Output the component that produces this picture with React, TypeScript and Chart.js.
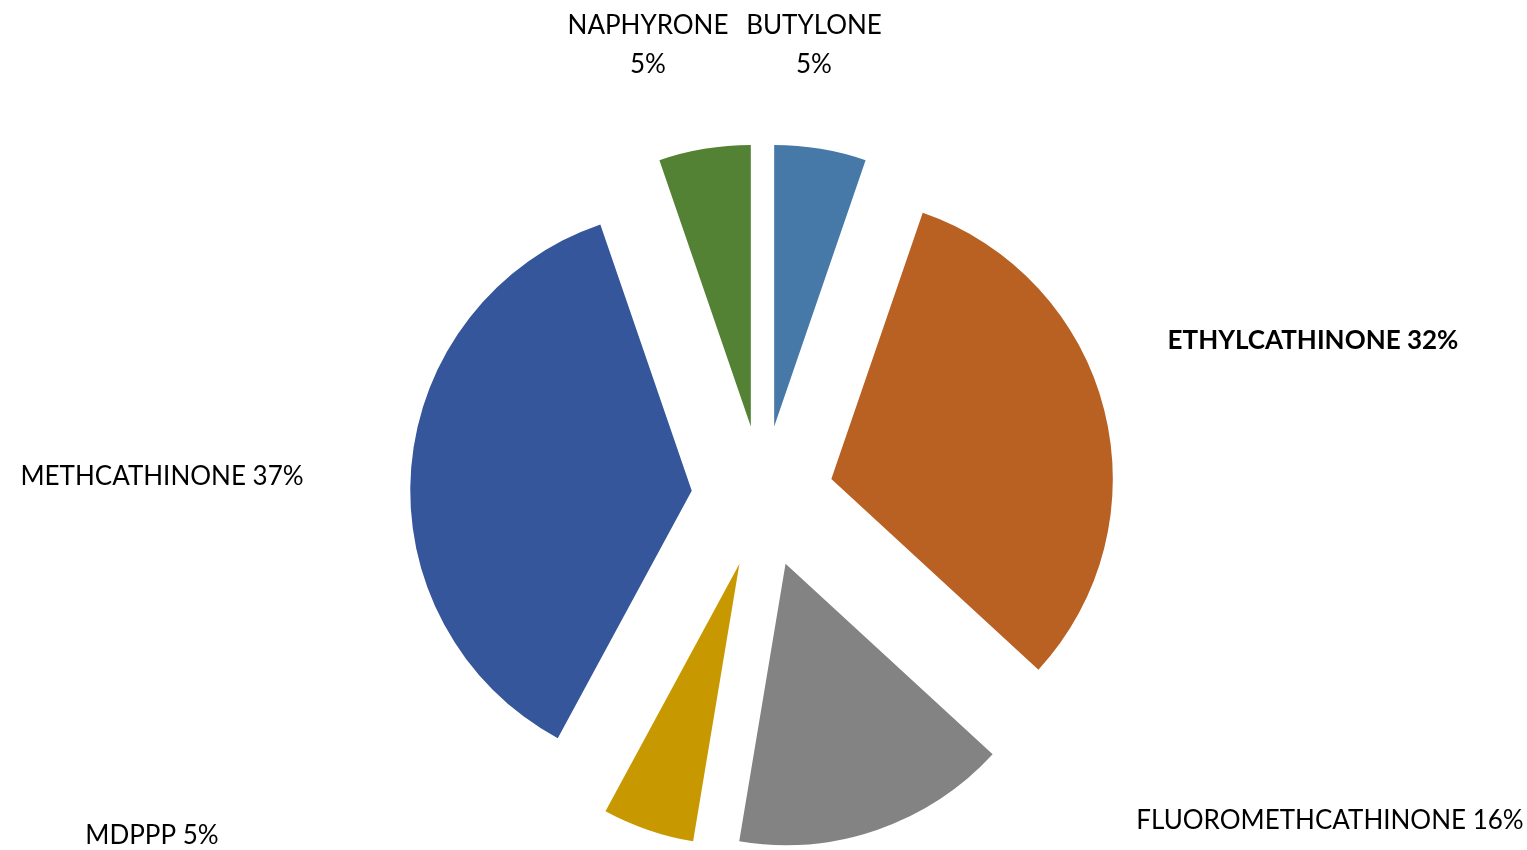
import React, { useEffect, useRef } from "react";
import { Chart, registerables } from "chart.js";

Chart.register(...registerables);

// ---- data ----
const categories = [
  "BUTYLONE",
  "ETHYLCATHINONE",
  "FLUOROMETHCATHINONE",
  "MDPPP",
  "METHCATHINONE",
  "NAPHYRONE",
];
const counts = [1, 6, 3, 1, 7, 1];
const sliceColors = ["#4678A8", "#B96023", "#838383", "#C89800", "#35569A", "#548235"];

// ---- styling / layout ----
const FONT_FAMILY = "Lato, 'Open Sans', sans-serif";
const FONT_SIZE = 26;
const RADIUS = 281.5;
const EXPLODE = 71;

// label placement (centre of text block) and line breaking, per category
const labelLayout: { x: number; y: number; split: boolean; bold: boolean }[] = [
  { x: 814, y: 26, split: true, bold: false },
  { x: 1313, y: 341, split: false, bold: true },
  { x: 1330, y: 821, split: false, bold: false },
  { x: 152, y: 836, split: false, bold: false },
  { x: 162, y: 477, split: false, bold: false },
  { x: 648, y: 26, split: true, bold: false },
];

const total = counts.reduce((a, b) => a + b, 0);
const percentLabels = counts.map((c) => `${Math.round((c / total) * 100)}%`);

const explodePlugin = {
  id: "explodeSlices",
  beforeDatasetDraw(chart: any, args: any) {
    const meta = chart.getDatasetMeta(args.index);
    const ctx = chart.ctx;
    meta.data.forEach((arc: any) => {
      const { startAngle, endAngle } = arc.getProps(["startAngle", "endAngle"], true);
      const mid = (startAngle + endAngle) / 2;
      ctx.save();
      ctx.translate(Math.cos(mid) * EXPLODE, Math.sin(mid) * EXPLODE);
      arc.draw(ctx);
      ctx.restore();
    });
    return false;
  },
};

const labelPlugin = {
  id: "sliceLabels",
  afterDraw(chart: any) {
    const ctx = chart.ctx;
    ctx.save();
    ctx.fillStyle = "#000000";
    ctx.textAlign = "center";
    ctx.textBaseline = "middle";
    categories.forEach((name, i) => {
      const l = labelLayout[i];
      ctx.font = `${l.bold ? "bold " : ""}${FONT_SIZE}px ${FONT_FAMILY}`;
      if (l.split) {
        ctx.fillText(name, l.x, l.y);
        ctx.fillText(percentLabels[i], l.x, l.y + 39);
      } else {
        ctx.fillText(`${name} ${percentLabels[i]}`, l.x, l.y);
      }
    });
    ctx.restore();
  },
};

export default function App() {
  const canvasRef = useRef<HTMLCanvasElement | null>(null);

  useEffect(() => {
    if (!canvasRef.current) return;
    const chart = new Chart(canvasRef.current, {
      type: "pie",
      data: {
        labels: categories,
        datasets: [
          {
            data: counts,
            backgroundColor: sliceColors,
            borderWidth: 0,
          },
        ],
      },
      options: {
        responsive: false,
        maintainAspectRatio: false,
        animation: false,
        radius: RADIUS,
        layout: { padding: { left: 0, right: 2, top: 143, bottom: 0 } },
        plugins: {
          legend: { display: false },
          tooltip: { enabled: false },
        },
      } as any,
      plugins: [explodePlugin, labelPlugin],
    });
    return () => chart.destroy();
  }, []);

  return (
    <div style={{ position: "absolute", left: 0, top: 0, width: 1527, height: 850, background: "#ffffff" }}>
      <canvas ref={canvasRef} width={1527} height={850} style={{ display: "block" }} />
    </div>
  );
}
